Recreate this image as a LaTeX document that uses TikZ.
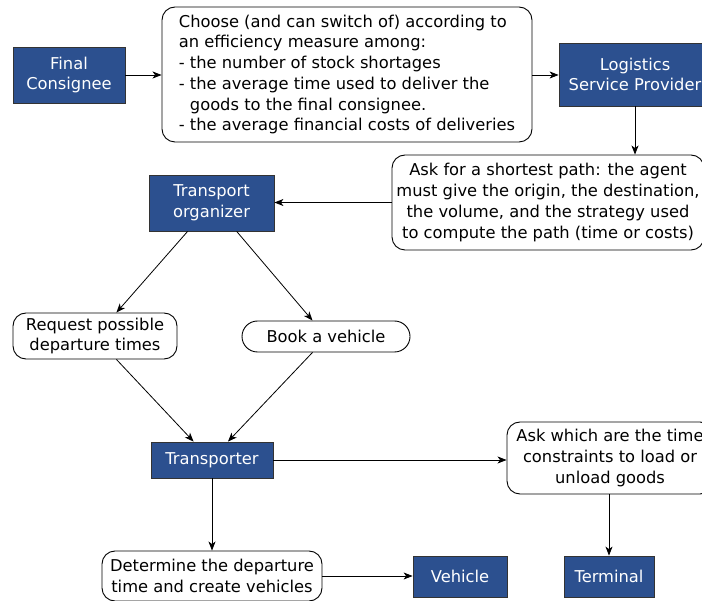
\documentclass[tikz,border=0pt]{standalone}
\usepackage{fontspec}
\setmainfont{DejaVu Sans}
\usetikzlibrary{arrows.meta,calc}
\definecolor{boxblue}{RGB}{44,80,143}
\begin{document}
\begin{tikzpicture}[x=1pt,y=-1pt,
  font=\fontsize{16.3}{20.7}\selectfont,
  agent/.style={draw=black!80, fill=boxblue, text=white, line width=0.8pt, align=center, inner sep=0pt},
  act/.style={draw=black, fill=white, rounded corners=13pt, line width=0.9pt, align=center, inner sep=0pt},
  link/.style={draw=black, line width=0.8pt, -{Stealth[length=9pt,width=7pt,inset=2.5pt]}}]
\useasboundingbox (0,0) rectangle (702,601);
\node[agent, minimum width=112, minimum height=56] (fc) at (69,75) {Final\\Consignee};
\node[act, minimum width=370, minimum height=135, align=left] (choose) at (347,74.5) {Choose (and can switch of) according to\\an efficiency measure among:\\- the number of stock shortages\\- the average time used to deliver the\\\phantom{-} goods to the final consignee.\\- the average financial costs of deliveries};
\node[agent, minimum width=152, minimum height=63] (lsp) at (635,74.5) {Logistics\\Service Provider};
\node[act, minimum width=312, minimum height=95] (ask) at (548,202.5) {Ask for a shortest path: the agent\\must give the origin, the destination,\\the volume, and the strategy used\\to compute the path (time or costs)};
\node[agent, minimum width=125, minimum height=56] (org) at (211.5,203) {Transport\\organizer};
\node[act, minimum width=164, minimum height=46] (req) at (95,336) {Request possible\\departure times};
\node[act, minimum width=168, minimum height=31, rounded corners=15.5] (book) at (326,336.5) {Book a vehicle};
\node[agent, minimum width=122, minimum height=36] (tr) at (212,460) {Transporter};
\node[act, minimum width=206, minimum height=72] (aw) at (610,458) {Ask which are the time\\constraints to load or\\unload goods};
\node[act, minimum width=220, minimum height=50] (det) at (212,576) {Determine the departure\\time and create vehicles};
\node[agent, minimum width=94, minimum height=41] (veh) at (460,576.5) {Vehicle};
\node[agent, minimum width=90, minimum height=41] (term) at (609,576.5) {Terminal};

\draw[link] (fc.east) -- (fc.east -| choose.west);
\draw[link] (choose.east |- fc.east) -- (fc.east -| lsp.west);
\draw[link] (lsp.south) -- (lsp.south |- ask.north);
\draw[link] (ask.west) -- (ask.west -| org.east);
\draw[link] ($(org.south west)!0.31!(org.south east)$) -- ($(req.north west)!0.63!(req.north east)$);
\draw[link] ($(org.south west)!0.70!(org.south east)$) -- ($(book.north west)!0.42!(book.north east)$);
\draw[link] ($(req.south west)!0.63!(req.south east)$) -- ($(tr.north west)!0.35!(tr.north east)$);
\draw[link] ($(book.south west)!0.42!(book.south east)$) -- ($(tr.north west)!0.63!(tr.north east)$);
\draw[link] (tr.east) -- (tr.east -| aw.west);
\draw[link] (aw.south -| term.north) -- (term.north);
\draw[link] (tr.south) -- (tr.south |- det.north);
\draw[link] (det.east) -- (det.east -| veh.west);
\end{tikzpicture}
\end{document}
